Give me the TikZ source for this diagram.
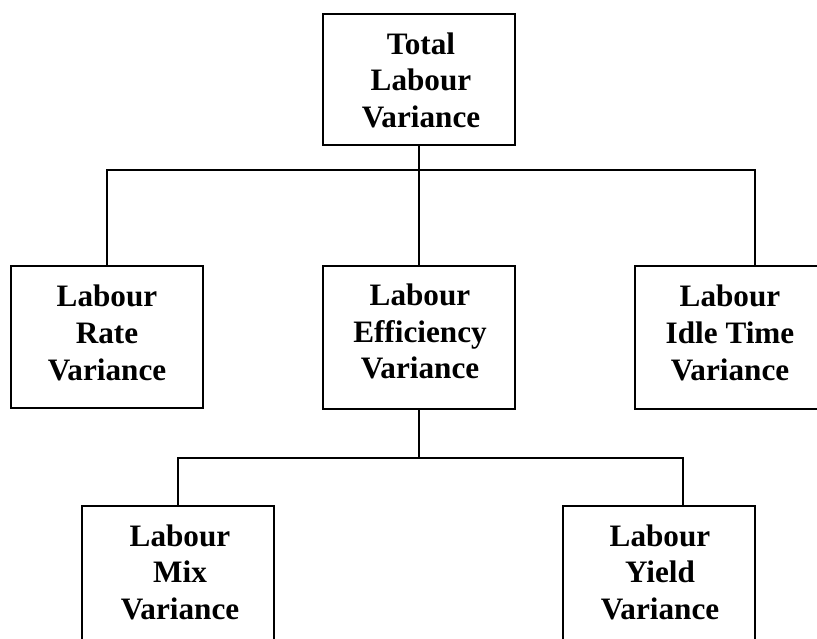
\documentclass[tikz,border=0pt]{standalone}
\usepackage{fontspec}
\setmainfont{Liberation Serif}
\begin{document}
\begin{tikzpicture}[x=1pt,y=-1pt,
  box/.style={draw,line width=1.6pt,rectangle,inner sep=0pt},
  lbl/.style={inner sep=0pt,align=center,font=\fontsize{31.2}{36.7}\selectfont\bfseries},
  conn/.style={line width=1.6pt}]
\useasboundingbox (0,0) rectangle (817,639);
\clip (0,0) rectangle (817,639);
% boxes
\node[box,minimum width=192pt,minimum height=131pt] (top) at (419,79.5) {};
\node[box,minimum width=192pt,minimum height=142pt] (lb) at (107,337) {};
\node[box,minimum width=192pt,minimum height=143pt] (mb) at (419,337.5) {};
\node[box,minimum width=190pt,minimum height=143pt] (rb) at (730,337.5) {};
\node[box,minimum width=192pt,minimum height=143pt] (bl) at (178,577.5) {};
\node[box,minimum width=192pt,minimum height=143pt] (br) at (659,577.5) {};
% labels
\node[lbl] (ttop) at (421,80.4) {Total\\Labour\\Variance};
\node[lbl] (tlb) at (107,333) {Labour\\Rate\\Variance};
\node[lbl] (tmb) at (420,331.5) {Labour\\Efficiency\\Variance};
\node[lbl] (trb) at (730,333) {Labour\\Idle Time\\Variance};
\node[lbl] (tbl) at (180,572.4) {Labour\\Mix\\Variance};
\node[lbl] (tbr) at (660,572.4) {Labour\\Yield\\Variance};
% junctions
\coordinate (j1) at (419,170);
\coordinate (jr) at (755,170);
\coordinate (j2) at (419,458);
\coordinate (jbr) at (683,458);
% connectors
\draw[conn] (top.south) -- (mb.north);
\draw[conn] (lb.north) |- (j1) -- (jr) -- (jr |- rb.north);
\draw[conn] (mb.south) -- (j2);
\draw[conn] (bl.north) |- (j2) -- (jbr) -- (jbr |- br.north);
\end{tikzpicture}
\end{document}
